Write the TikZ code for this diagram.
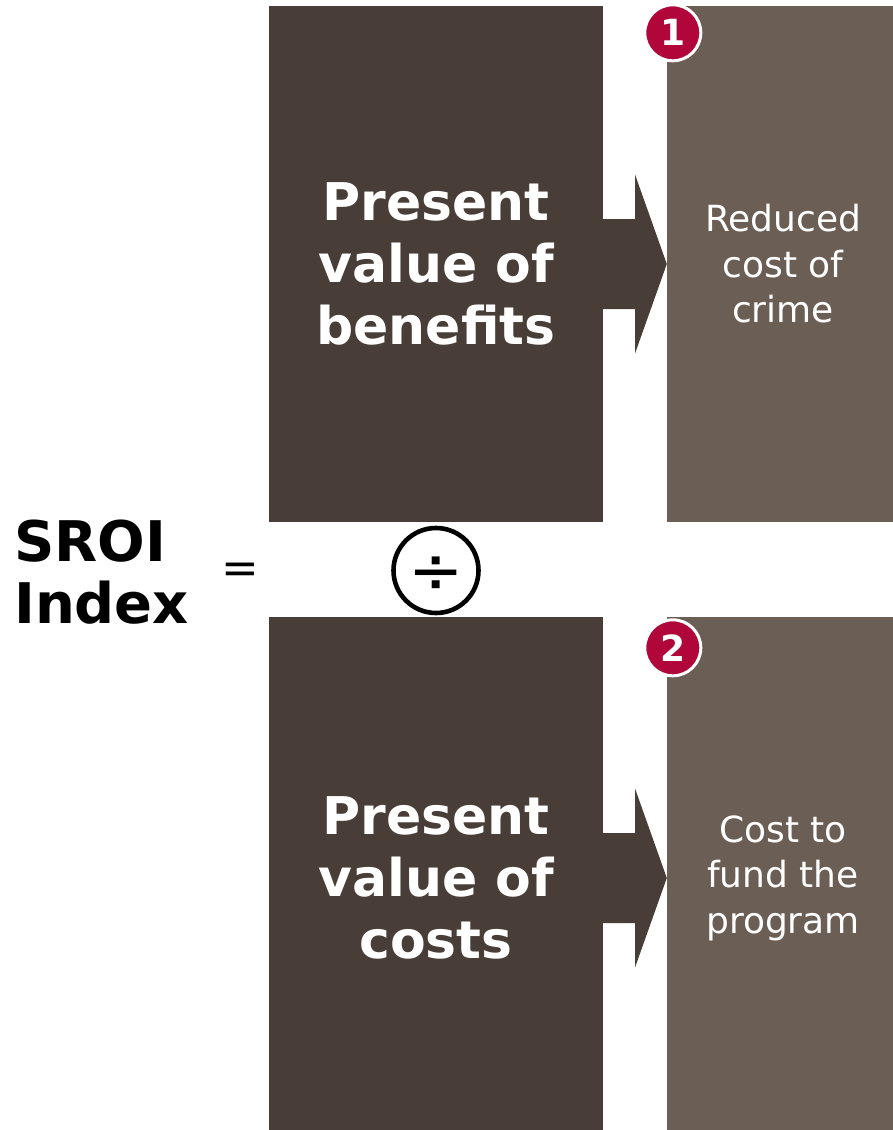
\documentclass[tikz,border=0pt]{standalone}
\usepackage{fontspec}
\setmainfont{DejaVu Sans}
\usetikzlibrary{positioning,calc}

\definecolor{pvdark}{RGB}{72,61,55}
\definecolor{pvlight}{RGB}{107,94,85}
\definecolor{badgered}{RGB}{176,6,58}

\tikzset{
	pvbox/.style={fill=pvdark, text=white, align=center, inner sep=0pt,
		minimum width=334pt, minimum height=516pt,
		font=\fontsize{52}{62}\selectfont\bfseries},
	itembox/.style={fill=pvlight, text=white, align=center, inner sep=0pt,
		minimum width=232pt, minimum height=516pt,
		font=\fontsize{36}{45.5}\selectfont},
	badge/.style={circle, fill=badgered, draw=white, line width=3pt,
		minimum size=56pt, inner sep=0pt, text=white,
		font=\fontsize{36}{36}\selectfont\bfseries},
	pvarrow/.style={fill=pvdark},
}

\begin{document}
\begin{tikzpicture}[x=1pt,y=-1pt]
	\useasboundingbox (0,0) rectangle (892,1130);
	% numerator
	\node[pvbox] (pvb) at (436,264) {Present\\value of\\benefits};
	\node[itembox] (rcc) at (783,264) {Reduced\\cost of\\crime};
	% denominator (runs past the lower edge)
	\node[pvbox, minimum height=522pt] (pvc) at (436,878) {Present\\value of\\costs};
	\node[itembox, minimum height=522pt] (cfp) at (783,878) {Cost to\\fund the\\program};
	% block arrows between the boxes
	\foreach \a/\b in {pvb/rcc, pvc/cfp}
		\fill[pvarrow] ($(\a.east)+(-1,-45)$) -- ++(33,0) -- ++(0,-44) -- (\b.west)
			-- ($(\a.east)+(32,89)$) -- ++(0,-44) -- ($(\a.east)+(-1,45)$) -- cycle;
	% numbered badges
	\node[badge] (one) at ($(rcc.north west)+(6,27)$) {1};
	\node[badge] (two) at ($(cfp.north west)+(6,31)$) {2};
	% left hand side and divide sign
	\node[anchor=west, align=left, inner sep=0pt,
		font=\fontsize{56}{62}\selectfont\bfseries] (sroi) at (14,572) {SROI\\Index};
	\node[font=\fontsize{45}{45}\selectfont] (eq) at (240,573) {=};
	\node[circle, draw, line width=4.6pt, minimum size=85pt, inner sep=0pt] (divide) at (436,570.5) {};
	\node[font=\fontsize{66}{66}\selectfont] (divsign) at ($(divide)+(0,5)$) {÷};
\end{tikzpicture}
\end{document}
